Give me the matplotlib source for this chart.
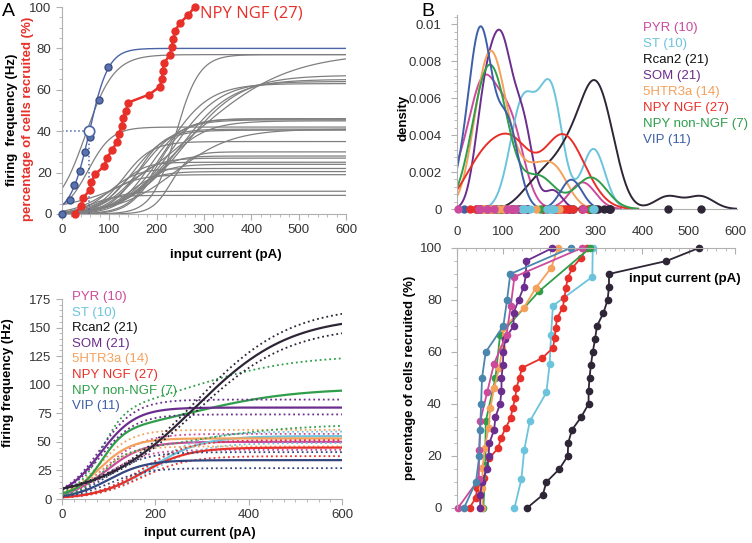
import numpy as np
import matplotlib.pyplot as plt
from matplotlib.ticker import MultipleLocator

plt.rcParams['font.family'] = ['Liberation Sans', 'DejaVu Sans']

W, H = 752, 543

groups = ['PYR', 'ST', 'Rcan2', 'SOM', '5HTR3a', 'NPY NGF', 'NPY non-NGF', 'VIP']
counts = [10, 10, 21, 21, 14, 27, 7, 11]
colors = ['#cc4a9c', '#6cc4dc', '#2e2537', '#6b2d8e', '#f4a15c', '#e8302a', '#2f9e4a', '#3d5ea8']
label_colors = ['#cc4a9c', '#6cc4dc', '#111111', '#6b2d8e', '#f4a15c', '#e8302a', '#2f9e4a', '#3d5ea8']

# recruitment current (pA) of each cell, sorted
thr_pyr = [2, 47, 48, 50, 65, 80, 107, 116, 124, 269]
thr_st = [124, 139, 145, 157, 193, 200, 203, 207, 292, 293]
thr_rcan2 = [151, 185, 193, 221, 239, 240, 248, 268, 284, 284, 286, 289, 293, 298, 302,
             316, 325, 328, 328, 452, 522]
thr_som = [50, 50, 54, 65, 68, 70, 80, 83, 93, 96, 96, 99, 100, 104, 122, 122, 133, 144,
           149, 149, 206]
thr_5ht = [55, 55, 55, 60, 68, 72, 80, 91, 98, 100, 144, 170, 203, 218]
thr_ngf = [27, 40, 44, 59, 62, 70, 89, 95, 105, 116, 120, 126, 128, 135, 140, 184, 207,
           211, 213, 216, 228, 232, 235, 239, 249, 267, 280]
thr_nonngf = [57, 61, 62, 83, 93, 177, 287]
thr_vip = [15, 41, 48, 50, 52, 54, 62, 100, 108, 115, 245]
thresholds = [thr_pyr, thr_st, thr_rcan2, thr_som, thr_5ht, thr_ngf, thr_nonngf, thr_vip]

# panel A top: sigmoid fits of the NPY NGF cells (plateau Hz, half current pA, slope pA)
ngf_top = [77, 77, 78, 67, 65, 64, 63, 46, 46, 45.5, 45, 42, 41, 41, 40.5, 35, 28, 27,
           25, 24, 22, 20.5, 19, 11, 9, 30]
ngf_half = [50, 240, 280, 260, 250, 235, 220, 200, 185, 170, 210, 55, 160, 240, 150, 130,
            180, 140, 120, 160, 100, 140, 90, 80, 60, 230]
ngf_slope = [30, 25, 100, 60, 55, 50, 45, 30, 35, 40, 45, 25, 30, 60, 35, 30, 25, 30, 25,
             30, 30, 30, 35, 30, 25, 20]
# example cell (blue)
ex_I = [0, 16, 26, 38, 49, 59, 79, 98]
ex_f = [0, 7, 14, 21, 30, 37, 55, 71]
ex_fit = (80, 58, 20)

# panel A bottom: group mean fits (two sigmoid terms) and SEM envelope at 600 pA
mean_top1 = [50, 55, 160, 80, 53, 45, 55, 34]
mean_half1 = [95, 190, 285, 82, 80, 170, 85, 100]
mean_slope1 = [40, 55, 101, 38, 35, 50, 25, 40]
mean_top2 = [0, 0, 0, 0, 0, 0, 42, 0]
mean_half2 = [1, 1, 1, 1, 1, 1, 280, 1]
mean_slope2 = [1, 1, 1, 1, 1, 1, 110, 1]
sem_hi = [57, 59, 162, 87, 60.5, 51.5, 123, 41]
sem_lo = [43, 49, 145, 74, 46, 37.5, 64, 27]


def sig(x, top, half, slope):
    return top / (1 + np.exp((half - x) / slope))


def kde(data, xs):
    d = np.array(data, float)
    q = np.percentile(d, [25, 75])
    h = 0.9 * min(d.std(ddof=1), (q[1] - q[0]) / 1.34) * len(d) ** -0.2
    z = (xs[:, None] - d[None, :]) / h
    return np.exp(-0.5 * z ** 2).sum(axis=1) / (len(d) * h * np.sqrt(2 * np.pi)), h


def style(ax, col='#b0b0b0'):
    for s in ax.spines.values():
        s.set_color(col)
    ax.tick_params(colors=col, labelcolor='#333333', labelsize=9.5, length=4)
    ax.tick_params(which='minor', colors=col, length=2.5)


def fx(px):
    return px / W


def fy(py):
    return 1 - py / H


FS = 9.5
fig = plt.figure(figsize=(W / 100, H / 100), dpi=100)

# ---------- A top ----------
ax1 = fig.add_axes([fx(62), fy(214), fx(346) - fx(62), fy(7) - fy(214)])
xs = np.linspace(0, 600, 601)
for t, c, k in zip(ngf_top, ngf_half, ngf_slope):
    ax1.plot(xs, sig(xs, t, c, k), color='#7f7f7f', lw=0.9)
ax1.plot(xs, sig(xs, *ex_fit), color='#4a64a6', lw=1.0)
ax1.plot([0, 58], [40, 40], ':', color='#4a64a6', lw=1.1)
ax1.plot([58, 58], [0, 40], ':', color='#4a64a6', lw=1.1)
ax1.plot(ex_I, ex_f, 'o', color='#5a72ad', mec='#3b4f86', ms=5, clip_on=False, zorder=5)
ax1.plot([58], [40], 'o', mfc='white', mec='#4a64a6', ms=7.5, mew=1.2, zorder=5)
ngf_pct = np.linspace(0, 100, len(thr_ngf))
ax1.plot(thr_ngf, ngf_pct, '-o', color='#e8302a', lw=1.8, ms=5, clip_on=False, zorder=6)
ax1.set_xlim(0, 600)
ax1.set_ylim(0, 100)
ax1.set_xticks(range(0, 601, 100))
ax1.set_yticks(range(0, 101, 20))
ax1.xaxis.set_minor_locator(MultipleLocator(20))
ax1.yaxis.set_minor_locator(MultipleLocator(5))
ax1.spines['top'].set_visible(False)
ax1.spines['right'].set_visible(False)
style(ax1)
fig.text(fx(200), fy(14), 'NPY NGF (27)', color='#e8302a', fontsize=12,
         family=['Open Sans', 'DejaVu Sans'], va='center')
fig.text(fx(12), fy(120), 'firing  frequency (Hz)', rotation=90, fontsize=FS,
         fontweight='bold', ha='center', va='center')
fig.text(fx(28), fy(119), 'percentage of cells recruited (%)', rotation=90, fontsize=FS,
         fontweight='bold', color='#e8302a', ha='center', va='center')
fig.text(fx(226), fy(255), 'input current (pA)', fontsize=FS, fontweight='bold',
         ha='center', va='center')
fig.text(fx(2), fy(12), 'A', fontsize=14, va='center')

# ---------- A bottom ----------
ax2 = fig.add_axes([fx(62), fy(499), fx(342) - fx(62), fy(299) - fy(499)])
line_colors = list(colors)
line_colors[7] = '#34467f'
order = [0, 1, 4, 5, 7, 6, 3, 2]
for i in order:
    m = sig(xs, mean_top1[i], mean_half1[i], mean_slope1[i]) + \
        sig(xs, mean_top2[i], mean_half2[i], mean_slope2[i])
    ax2.plot(xs, m * sem_hi[i] / m[-1], ':', color=line_colors[i], lw=1.3)
    ax2.plot(xs, m * sem_lo[i] / m[-1], ':', color=line_colors[i], lw=1.3)
    ax2.plot(xs, m, '-', color=line_colors[i], lw=1.6)
ax2.set_xlim(0, 600)
ax2.set_ylim(0, 175)
ax2.set_xticks([0, 200, 400, 600])
ax2.set_yticks(range(0, 176, 25))
ax2.xaxis.set_minor_locator(MultipleLocator(25))
ax2.yaxis.set_minor_locator(MultipleLocator(5))
ax2.spines['top'].set_visible(False)
ax2.spines['right'].set_visible(False)
style(ax2)
for j, (g, n, tc) in enumerate(zip(groups, counts, label_colors)):
    fig.text(fx(72), fy(297 + 15.6 * j), f'{g} ({n})', color=tc, fontsize=FS, va='center')
fig.text(fx(8), fy(383), 'firing frequency (Hz)', rotation=90, fontsize=FS,
         fontweight='bold', ha='center', va='center')
fig.text(fx(200), fy(533), 'input current (pA)', fontsize=FS, fontweight='bold',
         ha='center', va='center')

# ---------- B top ----------
ax3 = fig.add_axes([fx(457), fy(209), fx(737) - fx(457), fy(15) - fy(209)])
kx = np.linspace(-200, 800, 2001)
for i in range(len(groups)):
    d, h = kde(thresholds[i], kx)
    keep = (kx >= max(0, min(thresholds[i]) - 3 * h)) & (kx <= min(600, max(thresholds[i]) + 3 * h))
    ax3.plot(kx[keep], d[keep], color=colors[i], lw=1.4)
for i in [2, 7, 5, 3, 6, 4, 1, 0]:
    ax3.plot(thresholds[i], [0] * len(thresholds[i]), 'o', color=colors[i], ms=5,
             clip_on=False, zorder=5)
ax3.set_xlim(0, 600)
ax3.set_ylim(0, 0.0105)
ax3.set_xticks(range(0, 601, 100))
ax3.set_xticklabels([])
ax3.set_yticks([0, 0.002, 0.004, 0.006, 0.008, 0.01])
ax3.set_yticklabels(['0', '0.002', '0.004', '0.006', '0.008', '0.01'])
ax3.yaxis.set_minor_locator(MultipleLocator(0.0004))
for s in ['top', 'right']:
    ax3.spines[s].set_visible(False)
style(ax3)
ax3.tick_params(axis='x', length=0)
ax3.tick_params(axis='y', pad=7)
for j, (g, n, tc) in enumerate(zip(groups, counts, label_colors)):
    fig.text(fx(643), fy(28 + 16 * j), f'{g} ({n})', color=tc, fontsize=FS, va='center')
fig.text(fx(403), fy(118), 'density', rotation=90, fontsize=FS, fontweight='bold',
         ha='center', va='center')
fig.text(fx(421), fy(12), 'B', fontsize=14, va='center')

# ---------- B bottom ----------
ax4 = fig.add_axes([fx(457), fy(508), fx(735) - fx(457), fy(248) - fy(508)])
bot_colors = list(colors)
bot_colors[7] = '#4a86ad'
for i in [2, 1, 5, 6, 4, 3, 0, 7]:
    pct = np.linspace(0, 100, len(thresholds[i]))
    ax4.plot(thresholds[i], pct, '-o', color=bot_colors[i], lw=1.3, ms=4.5, clip_on=False)
ax4.set_xlim(0, 600)
ax4.set_ylim(0, 100)
ax4.xaxis.tick_top()
ax4.set_xticks(range(0, 601, 100))
ax4.set_yticks(range(0, 101, 20))
ax4.xaxis.set_minor_locator(MultipleLocator(20))
ax4.yaxis.set_minor_locator(MultipleLocator(5))
for s in ['bottom', 'right']:
    ax4.spines[s].set_visible(False)
style(ax4)
ax4.tick_params(axis='x', which='both', direction='in', pad=7)
ax4.tick_params(axis='y', pad=7)
fig.text(fx(685), fy(279), 'input current (pA)', fontsize=FS, fontweight='bold',
         ha='center', va='center')
fig.text(fx(410), fy(378), 'percentage of cells recruited (%)', rotation=90, fontsize=FS,
         fontweight='bold', ha='center', va='center')

fig.savefig('out.png', dpi=100)
